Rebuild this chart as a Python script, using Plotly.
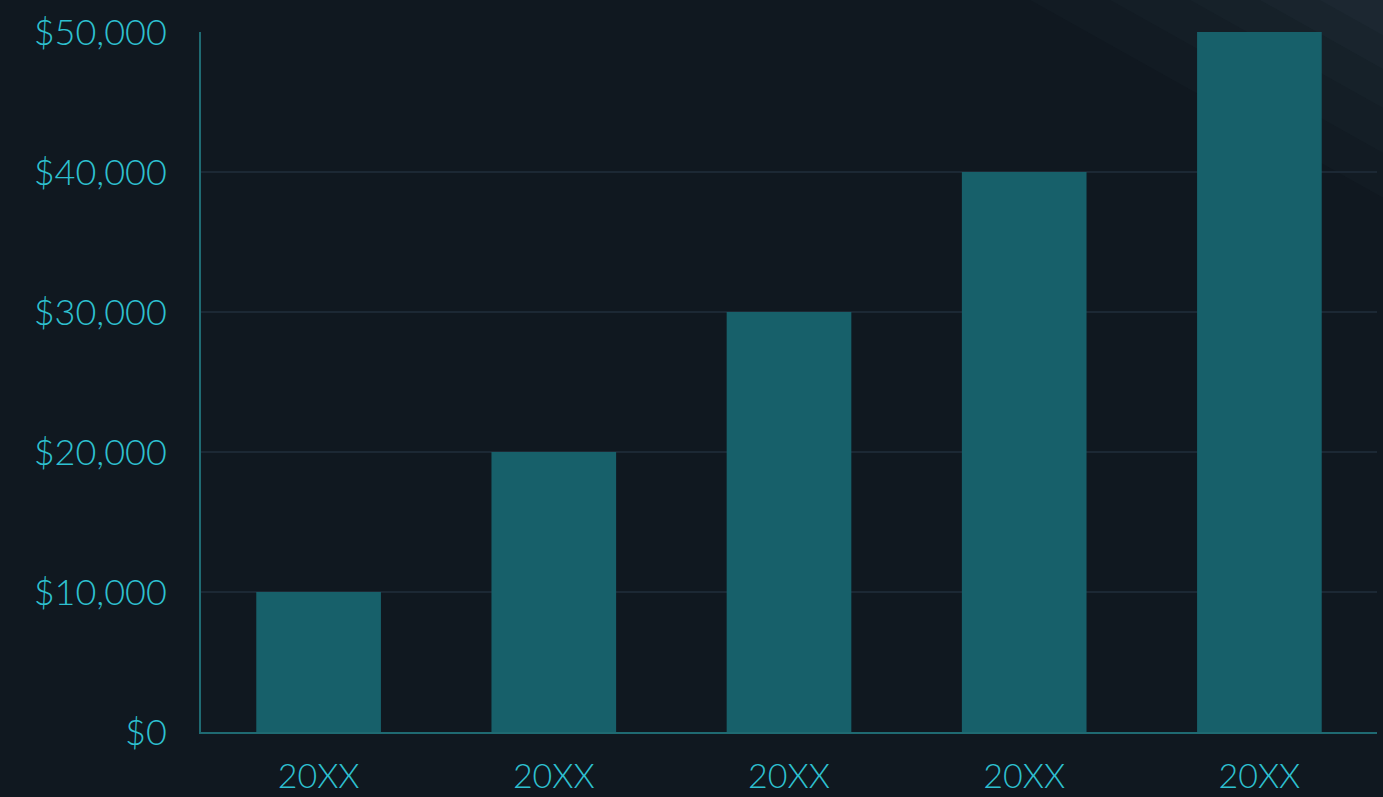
import plotly.graph_objects as go

categories = ["20XX", "20XX", "20XX", "20XX", "20XX"]
values = [10000, 20000, 30000, 40000, 50000]
y_ticks = [0, 10000, 20000, 30000, 40000, 50000]
y_labels = ["$0", "$10,000", "$20,000", "$30,000", "$40,000", "$50,000"]

pos = list(range(len(categories)))
txt = "#2ec0d0"
font = "Lato, 'Noto Sans', sans-serif"

W, H = 1383, 797
L, R, T, B = 201, 6, 32, 65
pw, ph = W - L - R, H - T - B


def px2paper(xp, yp):
    return (xp - L) / pw, (H - B - yp) / ph


shapes = []
# faint diagonal light sheen in the top-right corner
for a, op in [(1030, 0.025), (1110, 0.025), (1190, 0.025), (1260, 0.03), (1320, 0.03)]:
    x0, y0 = px2paper(a, 0)
    x1, _ = px2paper(W, 0)
    _, y1 = px2paper(W, (W - a) * 0.56)
    shapes.append(dict(type="path", xref="paper", yref="paper", layer="below",
                       path=f"M {x0} {y0} L {x1} {y0} L {x1} {y1} Z",
                       fillcolor=f"rgba(140,170,190,{op})", line=dict(width=0)))

fig = go.Figure()
fig.add_trace(go.Bar(x=pos, y=values, marker=dict(color="#17606a", line=dict(width=0)),
                     width=0.53, hoverinfo="skip"))

fig.update_layout(
    width=W, height=H,
    paper_bgcolor="#101820", plot_bgcolor="rgba(0,0,0,0)",
    margin=dict(l=L, r=R, t=T, b=B, autoexpand=False),
    showlegend=False,
    font=dict(family=font, color=txt, size=36, weight=300),
    shapes=shapes,
    xaxis=dict(tickmode="array", tickvals=pos, ticktext=categories,
               range=[-0.5, len(categories) - 0.5], showgrid=False,
               showline=True, linecolor="#1f6a72", linewidth=2,
               ticks="", ticklabelstandoff=13, zeroline=False, automargin=False,
               tickfont=dict(size=34, color=txt, weight=300)),
    yaxis=dict(tickmode="array", tickvals=y_ticks, ticktext=y_labels,
               range=[0, 50000], showgrid=True, gridcolor="#1c2834", gridwidth=2,
               showline=True, linecolor="#1f6a72", linewidth=2, zeroline=False,
               ticks="", ticklabelstandoff=25, automargin=False,
               tickfont=dict(size=36, color=txt, weight=300)),
)

fig.write_html("out.html", config={"displayModeBar": False},
               post_script="document.body.style.margin='0';document.body.style.background='#101820';")
